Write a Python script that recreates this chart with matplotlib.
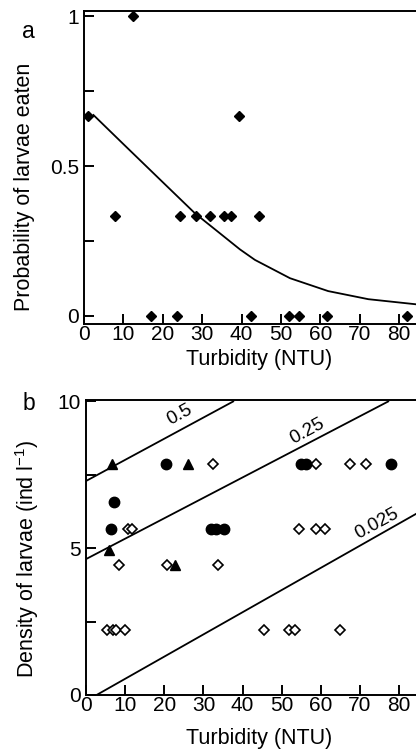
import numpy as np
import matplotlib
matplotlib.use("Agg")
import matplotlib.pyplot as plt

plt.rcParams['font.family'] = ['Liberation Sans', 'DejaVu Sans']

# ---- panel a: probability of larvae eaten vs turbidity ----
a_turb = [1.0, 12.4, 39.4, 7.9, 24.4, 28.4, 32.0, 35.5, 37.3, 44.4,
          17.0, 23.7, 42.5, 52.0, 54.6, 61.8, 82.0]
a_prob = [0.667, 1.0, 0.667, 0.333, 0.333, 0.333, 0.333, 0.333, 0.333, 0.333,
          0.0, 0.0, 0.0, 0.0, 0.0, 0.0, 0.0]
# fitted curve
fit_turb = [2.4, 10, 20, 28.2, 34, 39.6, 43.4, 52.3, 62, 72.2, 84.3]
fit_prob = [0.67, 0.573, 0.446, 0.342, 0.281, 0.222, 0.187, 0.126, 0.083, 0.056, 0.039]

# ---- panel b: density of larvae vs turbidity ----
circ_turb = [20.5, 54.9, 56.2, 77.9, 7.15, 6.3, 32.0, 33.1, 35.2]
circ_dens = [7.87, 7.87, 7.87, 7.87, 6.58, 5.65, 5.65, 5.65, 5.65]
tri_turb = [6.6, 26.1, 5.9, 22.7]
tri_dens = [7.87, 7.87, 4.94, 4.43]
dia_turb = [32.4, 58.7, 67.4, 71.4, 10.8, 11.7, 54.5, 58.7, 61.0,
            8.4, 20.8, 33.8, 5.4, 7.0, 7.7, 9.9, 45.5, 51.9, 53.4, 64.9]
dia_dens = [7.87, 7.87, 7.87, 7.87, 5.65, 5.65, 5.65, 5.65, 5.65,
            4.43, 4.43, 4.43, 2.2, 2.2, 2.2, 2.2, 2.2, 2.2, 2.2, 2.2]

# iso-probability lines
iso_labels = ["0.5", "0.25", "0.025"]
iso_x = [[0, 37.6], [0, 77.2], [2.7, 84.3]]
iso_y = [[7.29, 10.0], [4.63, 10.0], [0, 6.17]]
iso_lab_xy = [(24.0, 9.56), (56.4, 8.98), (74.3, 5.83)]

fig = plt.figure(figsize=(4.16, 7.5), dpi=100)

W, H = 416, 750
TICK_FS = 15
LAB_FS = 15.5


def make_axes(left, top, bottom):
    return fig.add_axes([left / W, 1 - bottom / H, 1 - left / W, (bottom - top) / H])


def style(ax):
    for s in ['left', 'bottom', 'top']:
        ax.spines[s].set_linewidth(1.4)
    ax.spines['right'].set_visible(False)
    ax.tick_params(which='both', direction='in', length=7.5, width=1.4,
                   labelsize=TICK_FS, top=False, right=False)
    ax.tick_params(axis='x', pad=0.5)
    ax.tick_params(axis='y', pad=3.5)


# panel a
ax1 = make_axes(84, 11, 324)
style(ax1)
ax1.plot(fit_turb, fit_prob, color='black', lw=1.3, zorder=2)
ax1.plot(a_turb, a_prob, ls='none', marker='D', ms=5.5, color='black', zorder=3)
ax1.set_xlim(0, 84.3)
ax1.set_ylim(-0.0267, 1.0167)
ax1.set_xticks(range(0, 81, 10))
ax1.set_yticks([0, 0.5, 1])
ax1.set_yticklabels(["0", "0.5", "1"])
ax1.set_yticks([0.25, 0.75], minor=True)
ax1.set_xlabel("Turbidity (NTU)", fontsize=LAB_FS, va='center')
ax1.xaxis.set_label_coords(0.527, -0.115)
ax1.set_ylabel("Probability of larvae eaten", fontsize=LAB_FS, va='center')
ax1.yaxis.set_label_coords(-0.178, 0.438)
fig.text(28 / W, 1 - 32 / H, "a", fontsize=16.5, ha='center', va='center')

# panel b
ax2 = make_axes(86, 400, 695)
style(ax2)
for xs, ys, lab, (lx, ly) in zip(iso_x, iso_y, iso_labels, iso_lab_xy):
    ax2.plot(xs, ys, color='black', lw=1.3, zorder=2)
    ax2.text(lx, ly, lab, fontsize=13.5, rotation=28.5, ha='center', va='center',
             rotation_mode='anchor')
ax2.plot(dia_turb, dia_dens, ls='none', marker='D', ms=5, mfc='white', mec='black',
         mew=1.2, zorder=3)
ax2.plot(circ_turb, circ_dens, ls='none', marker='o', ms=7.5, color='black', zorder=4)
ax2.plot(tri_turb, tri_dens, ls='none', marker='^', ms=6.5, color='black', zorder=4)
ax2.set_xlim(0, 84.3)
ax2.set_ylim(0, 10.05)
ax2.set_xticks(range(0, 81, 10))
ax2.set_yticks([0, 5, 10])
ax2.set_yticks([2.5, 7.5], minor=True)
ax2.set_xlabel("Turbidity (NTU)", fontsize=LAB_FS, va='center')
ax2.xaxis.set_label_coords(0.524, -0.149)
ax2.set_ylabel("Density of larvae (ind l$^{\\mathregular{-1}}$)", fontsize=LAB_FS, va='center')
ax2.yaxis.set_label_coords(-0.179, 0.463)
fig.text(29 / W, 1 - 403 / H, "b", fontsize=16.5, ha='center', va='center')

fig.savefig("out.png", dpi=100)
